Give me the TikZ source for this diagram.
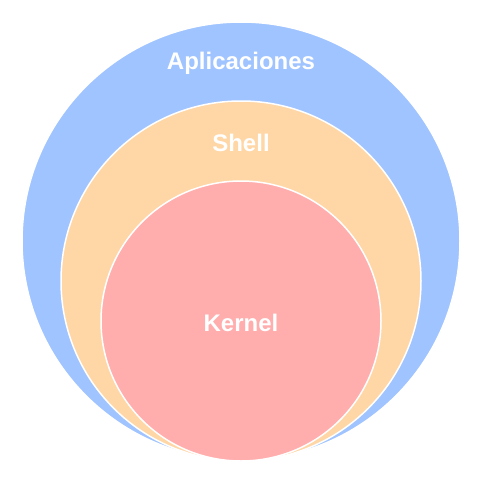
\documentclass[tikz,border=0pt]{standalone}
\usepackage{fontspec}
\setmainfont{Liberation Sans}
\usetikzlibrary{positioning}

\definecolor{appblue}{HTML}{A0C4FF}
\definecolor{shellorange}{HTML}{FFD6A5}
\definecolor{kernelpink}{HTML}{FFADAD}

\begin{document}
\begin{tikzpicture}[x=1pt, y=-1pt,
  layer/.style={circle, draw=white, line width=1.5pt, inner sep=0pt},
  lbl/.style={font=\fontsize{24}{28}\selectfont\bfseries, text=white}]
  \useasboundingbox (0,0) rectangle (482,482);
  % nested layers, all touching near the bottom
  \node[layer, fill=appblue, minimum size=438pt] (apps) at (241,241) {};
  \node[layer, fill=shellorange, minimum size=360pt] (shell) at (241,281) {};
  \node[layer, fill=kernelpink, minimum size=280pt] (kernel) at (241,321) {};
  % labels
  \node[lbl] (appslbl) at (241,63) {Aplicaciones};
  \node[lbl] (shelllbl) at (241,143) {Shell};
  \node[lbl] (kernellbl) at (241,323) {Kernel};
\end{tikzpicture}
\end{document}
